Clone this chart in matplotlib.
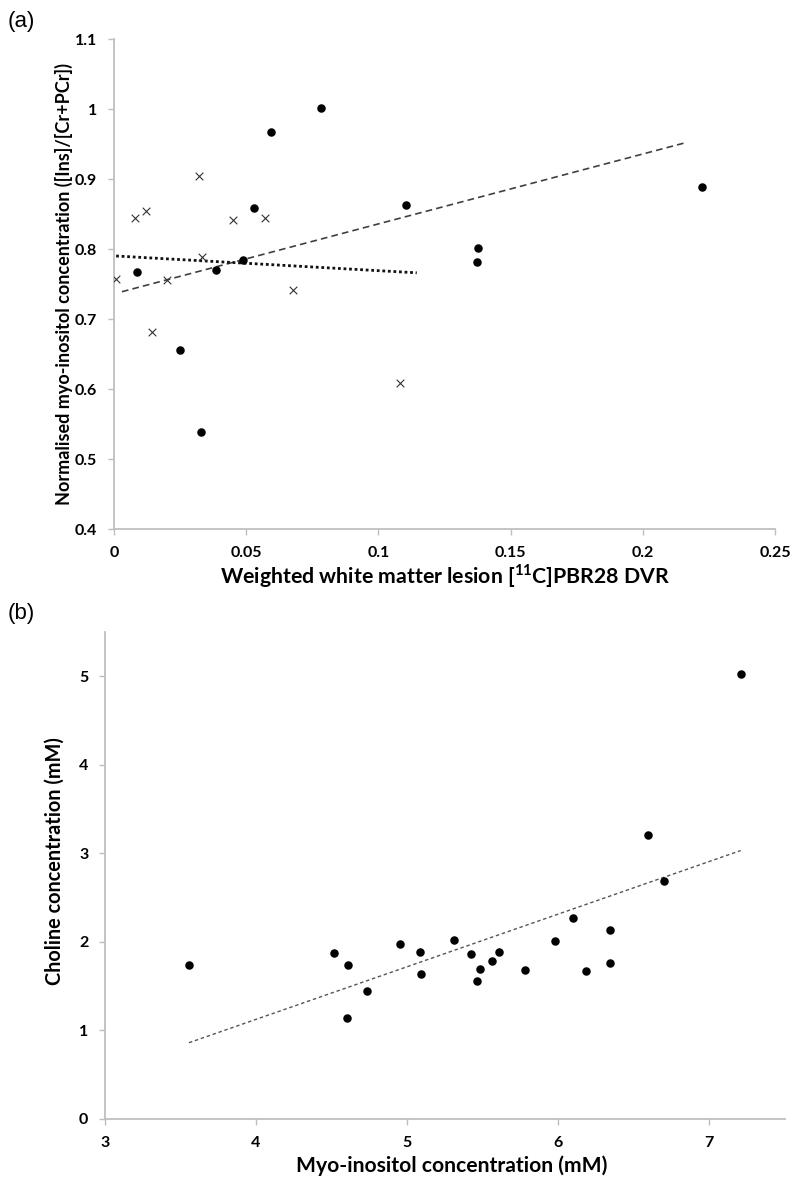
import matplotlib
matplotlib.use("Agg")
import matplotlib.pyplot as plt

plt.rcParams['font.family'] = ['Lato', 'DejaVu Sans']
plt.rcParams['mathtext.fontset'] = 'custom'
plt.rcParams['mathtext.rm'] = 'Lato:bold'
plt.rcParams['mathtext.bf'] = 'Lato:bold'

# ---- Panel (a) data ----
a_cross_x = [0.0008, 0.0078, 0.0121, 0.0322, 0.0449, 0.0572, 0.0334, 0.0199, 0.0143, 0.0676, 0.1083]
a_cross_y = [0.757, 0.844, 0.855, 0.905, 0.842, 0.845, 0.788, 0.756, 0.682, 0.742, 0.609]
a_dot_x = [0.0087, 0.0248, 0.0330, 0.0387, 0.0487, 0.0531, 0.0595, 0.0783, 0.1103, 0.1375, 0.1372, 0.2224]
a_dot_y = [0.767, 0.656, 0.538, 0.770, 0.784, 0.859, 0.967, 1.001, 0.863, 0.802, 0.781, 0.889]
a_trend_dash_x = [0.003, 0.2163]
a_trend_dash_y = [0.739, 0.952]
a_trend_dot_x = [0.0008, 0.1145]
a_trend_dot_y = [0.790, 0.766]
a_xticks = [0, 0.05, 0.1, 0.15, 0.2, 0.25]
a_xticklabels = ['0', '0.05', '0.1', '0.15', '0.2', '0.25']
a_yticks = [0.4, 0.5, 0.6, 0.7, 0.8, 0.9, 1.0, 1.1]
a_yticklabels = ['0.4', '0.5', '0.6', '0.7', '0.8', '0.9', '1', '1.1']

# ---- Panel (b) data ----
b_x = [3.556, 4.519, 4.611, 4.601, 4.737, 4.952, 5.088, 5.095, 5.311, 5.424, 5.464, 5.483,
       5.565, 5.609, 5.783, 5.982, 6.097, 6.187, 6.342, 6.346, 6.594, 6.702, 7.21]
b_y = [1.740, 1.869, 1.737, 1.139, 1.447, 1.970, 1.887, 1.632, 2.022, 1.857, 1.560, 1.692,
       1.778, 1.887, 1.677, 2.007, 2.267, 1.672, 1.756, 2.131, 3.203, 2.688, 5.027]
b_trend_x = [3.556, 7.21]
b_trend_y = [0.861, 3.03]
b_xticks = [3, 4, 5, 6, 7]
b_xticklabels = ['3', '4', '5', '6', '7']
b_yticks = [0, 1, 2, 3, 4, 5]
b_yticklabels = ['0', '1', '2', '3', '4', '5']

W, H = 800, 1193
fig = plt.figure(figsize=(W / 100, H / 100), dpi=100)

spine_col = '#bfbfbf'
tick_font = dict(fontsize=11.5, fontweight='bold', family='Lato')


def style(ax):
    for s in ['top', 'right']:
        ax.spines[s].set_visible(False)
    for s in ['left', 'bottom']:
        ax.spines[s].set_color(spine_col)
        ax.spines[s].set_linewidth(1.3)
    ax.tick_params(axis='both', direction='out', length=4, width=1.0, color=spine_col, pad=8)


# Panel (a)
axa = fig.add_axes([114 / W, 1 - 529 / H, (775 - 114) / W, (529 - 39) / H])
axa.plot(a_trend_dash_x, a_trend_dash_y, color='#404040', lw=1.2, dashes=(4, 2.5))
axa.plot(a_trend_dot_x, a_trend_dot_y, color='#111111', lw=2.0, dashes=(1, 1))
axa.scatter(a_cross_x, a_cross_y, marker='x', s=30, color='#333333', linewidths=0.8, zorder=3)
axa.scatter(a_dot_x, a_dot_y, marker='o', s=26, color='black', zorder=3)
axa.set_xlim(0, 0.25)
axa.set_ylim(0.4, 1.1)
style(axa)
axa.set_xticks(a_xticks)
axa.set_xticklabels(a_xticklabels, **tick_font)
axa.set_yticks(a_yticks)
axa.set_yticklabels(a_yticklabels, **tick_font)
axa.set_xlabel(r'Weighted white matter lesion [$^{11}$C]PBR28 DVR', fontsize=15.3,
               fontweight='bold', labelpad=2)
axa.set_ylabel('Normalised myo-inositol concentration ([Ins]/[Cr+PCr])', fontsize=13,
               fontweight='bold')
axa.yaxis.set_label_coords(-0.062, 0.5)
fig.text(8 / W, 1 - 22 / H, '(a)', fontsize=16, family='Liberation Sans', va='center', ha='left')

# Panel (b)
axb = fig.add_axes([105 / W, 1 - 1119 / H, (784.5 - 105) / W, (1119 - 631.7) / H])
axb.plot(b_trend_x, b_trend_y, color='#555555', lw=1.0, dashes=(2.5, 2))
axb.scatter(b_x, b_y, marker='o', s=26, color='black', zorder=3)
axb.set_xlim(3, 7.5)
axb.set_ylim(0, 5.5)
style(axb)
axb.set_xticks(b_xticks)
axb.set_xticklabels(b_xticklabels, **tick_font)
axb.set_yticks(b_yticks)
axb.set_yticklabels(b_yticklabels, **tick_font)
axb.set_xlabel('Myo-inositol concentration (mM)', fontsize=15.2, fontweight='bold', labelpad=3)
axb.xaxis.set_label_coords(0.51, -0.075)
axb.set_ylabel('Choline concentration (mM)', fontsize=14.3, fontweight='bold')
axb.yaxis.set_label_coords(-0.060, 0.53)
fig.text(8 / W, 1 - 614 / H, '(b)', fontsize=16, family='Liberation Sans', va='center', ha='left')

fig.savefig('out.png', dpi=100)
